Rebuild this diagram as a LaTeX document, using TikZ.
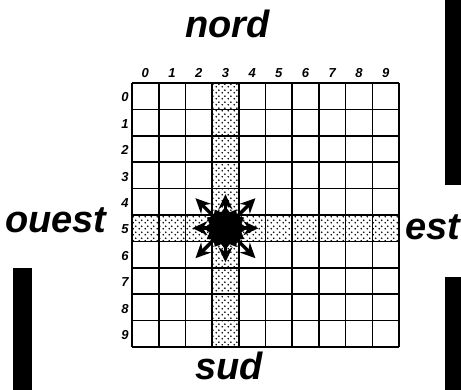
\documentclass[tikz,border=0pt]{standalone}
\usepackage{fontspec}
\setmainfont{Liberation Sans}
\usetikzlibrary{arrows.meta,patterns.meta,shapes.geometric}
% sparse staggered dots for the shaded row and column
\tikzdeclarepattern{name=sparsedots,type=uncolored,
  bounding box={(0pt,0pt) and (5.5pt,5.5pt)},tile size={(5.5pt,5.5pt)},
  code={\fill (1.4pt,1.4pt) circle (0.95pt); \fill (4.1pt,4.1pt) circle (0.95pt);}}

\begin{document}
\begin{tikzpicture}[x=1pt,y=-1pt,>={Stealth[length=15pt,width=14pt]},
  dirlabel/.style={font=\fontsize{38}{38}\selectfont\bfseries\itshape,inner sep=0pt},
  numlabel/.style={font=\fontsize{13}{13}\selectfont\bfseries\itshape,inner sep=0pt},
  gridline/.style={line width=1.6pt},
  movearrow/.style={->,line width=3.4pt}]
  \useasboundingbox (0,0) rectangle (461,390);
  % black bars at the edges
  \fill (445,0) rectangle (461,185);
  \fill (445,277) rectangle (461,390);
  \fill (13,268) rectangle (32,390);
  % compass words
  \node[dirlabel,anchor=base] (nord) at (227.5,38) {nord};
  \node[dirlabel,anchor=base] (sud) at (229,380) {sud};
  \node[dirlabel,anchor=base west] (ouest) at (5,233) {ouest};
  \node[dirlabel,anchor=base west] (est) at (405,240) {est};
  \begin{scope}[shift={(132,83)},x=26.7pt,y=-26.4pt]
    % dotted cross: column 3 and row 5
    \fill[pattern=sparsedots] (3,0) rectangle (4,10);
    \fill[pattern=sparsedots] (0,5) rectangle (10,6);
    \foreach \i in {0,...,10} {
      \draw[gridline] (\i,0) -- (\i,10);
      \draw[gridline] (0,\i) -- (10,\i);
    }
    \foreach \i in {0,...,9} {
      \node[numlabel] (col\i) at (\i+0.5,-0.38) {\i};
      \node[numlabel,anchor=east] (row\i) at (-0.12,\i+0.55) {\i};
    }
    % occupied cell with its eight moves
    \node[star,star points=12,star point ratio=1.3,minimum size=43pt,
      inner sep=0pt,fill=black] (ctr) at (3.5,5.5) {};
  \end{scope}
  \foreach \dx/\dy in {0/34, 0/-34, 33/0, -33/0, 30/30, 30/-30, -30/30, -30/-30}
    \draw[movearrow] (ctr.center) -- ++(\dx pt,\dy pt);
\end{tikzpicture}
\end{document}
